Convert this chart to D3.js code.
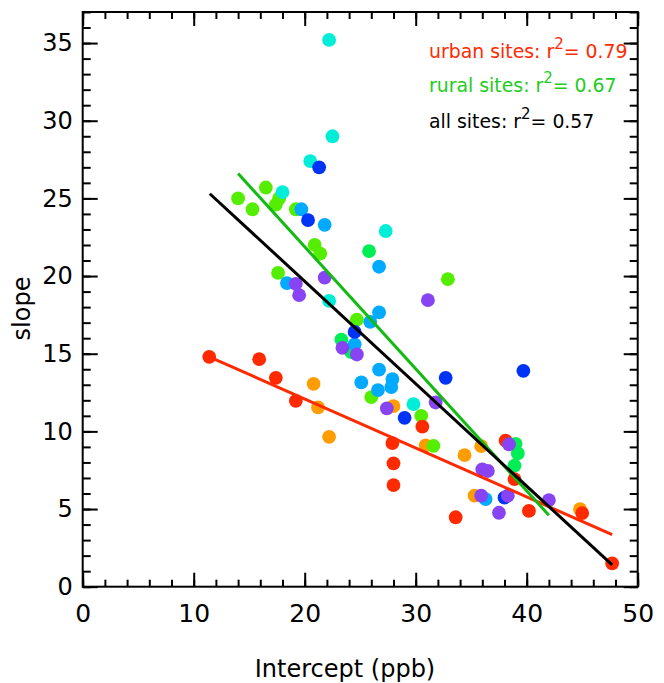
<!DOCTYPE html>
<html><head><meta charset="utf-8">
<script src="https://cdn.jsdelivr.net/npm/d3@7"></script>
<style>body{margin:0;background:#fff}svg{display:block}</style>
</head><body>
<script>
// ---- data ----
const orange = [[20.8,13.06],[21.2,11.54],[22.2,9.65],[28.0,11.63],[30.9,9.1],[34.4,8.47],[35.9,9.05],[35.3,5.86],[44.8,5.0]];
const springGreen = [[25.8,21.6],[23.3,15.9],[24.2,15.1],[39.0,9.2],[39.2,8.58],[38.9,7.8]];
const yellowGreen = [[14.0,25.0],[15.3,24.3],[16.5,25.7],[17.4,24.6],[17.7,25.0],[19.2,24.3],[20.9,22.0],[21.4,21.45],[17.6,20.2],[24.7,17.2],[32.9,19.8],[26.0,12.2],[30.5,11.0],[31.6,9.07]];
const red = [[11.4,14.8],[15.9,14.65],[17.4,13.45],[19.2,11.97],[30.6,10.3],[27.9,9.25],[28.0,7.94],[28.0,6.54],[33.6,4.47],[38.1,9.4],[38.9,6.93],[40.2,4.88],[45.0,4.74],[47.7,1.5]];
const cyan = [[22.2,35.2],[22.5,29.0],[20.5,27.4],[18.0,25.4],[22.2,18.4],[27.3,22.9],[29.8,11.75]];
const lightBlue = [[19.7,24.3],[21.8,23.3],[18.4,19.55],[26.7,20.6],[26.7,17.66],[25.9,17.05],[24.5,15.6],[25.1,13.15],[26.7,13.97],[27.9,13.37],[27.8,12.85],[26.6,12.66],[36.3,5.64]];
const blue = [[21.3,27.0],[20.3,23.6],[24.5,16.4],[32.7,13.45],[39.7,13.9],[29.0,10.87],[38.0,5.73]];
const purple = [[21.8,19.9],[19.2,19.5],[19.5,18.77],[23.4,15.38],[24.7,14.95],[31.1,18.45],[27.4,11.48],[31.8,11.86],[38.4,9.17],[36.0,7.55],[36.5,7.45],[35.9,5.86],[37.5,4.76],[38.3,5.86],[42.0,5.58]];

const fitUrban = [[11.4,14.8],[47.7,3.35]];
const fitRural = [[14.0,26.6],[42.0,4.6]];
const fitAll = [[11.45,25.3],[47.7,1.4]];

const xTicks = [0,10,20,30,40,50];
const yTicks = [0,5,10,15,20,25,30,35];
const legendLabels = ["urban sites: ", "rural sites: ", "all sites: "];
const legendR2 = ["0.79","0.67","0.57"];

// ---- layout ----
const W = 664, H = 683;
const svg = d3.select("body").append("svg").attr("width", W).attr("height", H);
const x = d3.scaleLinear().domain([0,50]).range([82.7,637.7]);
const y = d3.scaleLinear().domain([0,37]).range([586.7,12]);
const font = "'DejaVu Sans', 'Open Sans', sans-serif";

// points
const groups = [
  [orange, "#ff9d00"],
  [springGreen, "#00ee55"],
  [yellowGreen, "#55ee00"],
  [red, "#ff2a00"],
  [cyan, "#00eed8"],
  [lightBlue, "#00aaff"],
  [blue, "#0033f5"],
  [purple, "#8844f2"]
];
groups.forEach(([data, col]) => {
  svg.append("g").selectAll("circle").data(data).join("circle")
    .attr("cx", d => x(d[0])).attr("cy", d => y(d[1])).attr("r", 6.9).attr("fill", col);
});

// fit lines
const line = d3.line().x(d => x(d[0])).y(d => y(d[1]));
[[fitUrban,"#ff2a00"],[fitRural,"#11bb11"],[fitAll,"#000"]].forEach(([d,c]) => {
  svg.append("path").attr("d", line(d)).attr("stroke", c).attr("stroke-width", 3).attr("fill","none");
});

// axes (ticks inward on all sides)
const xMinor = d3.range(0,51,2), yMinor = d3.range(0,38,1);
function addAxis(axis, tr) {
  const g = svg.append("g").attr("transform", tr).call(axis);
  g.select(".domain").remove();
  g.selectAll("line").attr("stroke","#000").attr("stroke-width",2);
  return g;
}
addAxis(d3.axisBottom(x).tickValues(xMinor).tickSize(-7).tickFormat(""), `translate(0,${y(0)})`);
addAxis(d3.axisTop(x).tickValues(xMinor).tickSize(-7).tickFormat(""), `translate(0,${y(37)})`);
addAxis(d3.axisLeft(y).tickValues(yMinor).tickSize(-8).tickFormat(""), `translate(${x(0)},0)`);
addAxis(d3.axisRight(y).tickValues(yMinor).tickSize(-8).tickFormat(""), `translate(${x(50)},0)`);

const gx = addAxis(d3.axisBottom(x).tickValues(xTicks).tickSize(-14).tickPadding(18).tickFormat(d3.format("d")), `translate(0,${y(0)})`);
gx.selectAll("text").attr("font-family", font).attr("font-size", 25).attr("fill","#000");
addAxis(d3.axisTop(x).tickValues(xTicks).tickSize(-14).tickFormat(""), `translate(0,${y(37)})`);
const gy = addAxis(d3.axisLeft(y).tickValues(yTicks).tickSize(-15).tickPadding(10).tickFormat(d3.format("d")), `translate(${x(0)},0)`);
gy.selectAll("text").attr("font-family", font).attr("font-size", 24).attr("fill","#000");
addAxis(d3.axisRight(y).tickValues(yTicks).tickSize(-14).tickFormat(""), `translate(${x(50)},0)`);

// frame
svg.append("rect").attr("x", x(0)).attr("y", y(37)).attr("width", x(50)-x(0)).attr("height", y(0)-y(37))
  .attr("fill","none").attr("stroke","#000").attr("stroke-width",2);

// axis titles
svg.append("text").attr("x", 345).attr("y", 677).attr("text-anchor","middle")
  .attr("font-family", font).attr("font-size", 24).text("Intercept (ppb)");
svg.append("text").attr("transform","translate(30,308.5) rotate(-90)").attr("text-anchor","middle")
  .attr("font-family", font).attr("font-size", 24).text("slope");

// legend
const legCols = ["#ff2a00","#22cc22","#000"];
const legY = [58, 92, 128];
legendLabels.forEach((lab,i) => {
  const t = svg.append("text").attr("x", 429).attr("y", legY[i])
    .attr("font-family", font).attr("font-size", 20).attr("fill", legCols[i]);
  t.append("tspan").text(lab + "r");
  t.append("tspan").attr("dy", -9).attr("font-size", 15).text("2");
  t.append("tspan").attr("dy", 9).text("= " + legendR2[i]);
  if (i === 0) {
    const w = t.node().getComputedTextLength();
    const f = 20 * 198 / w;
    svg.selectAll(".legtmp").remove();
    t.attr("font-size", f);
    legendFont = f;
  } else {
    t.attr("font-size", legendFont);
  }
});
var legendFont;
</script>
</body></html>
